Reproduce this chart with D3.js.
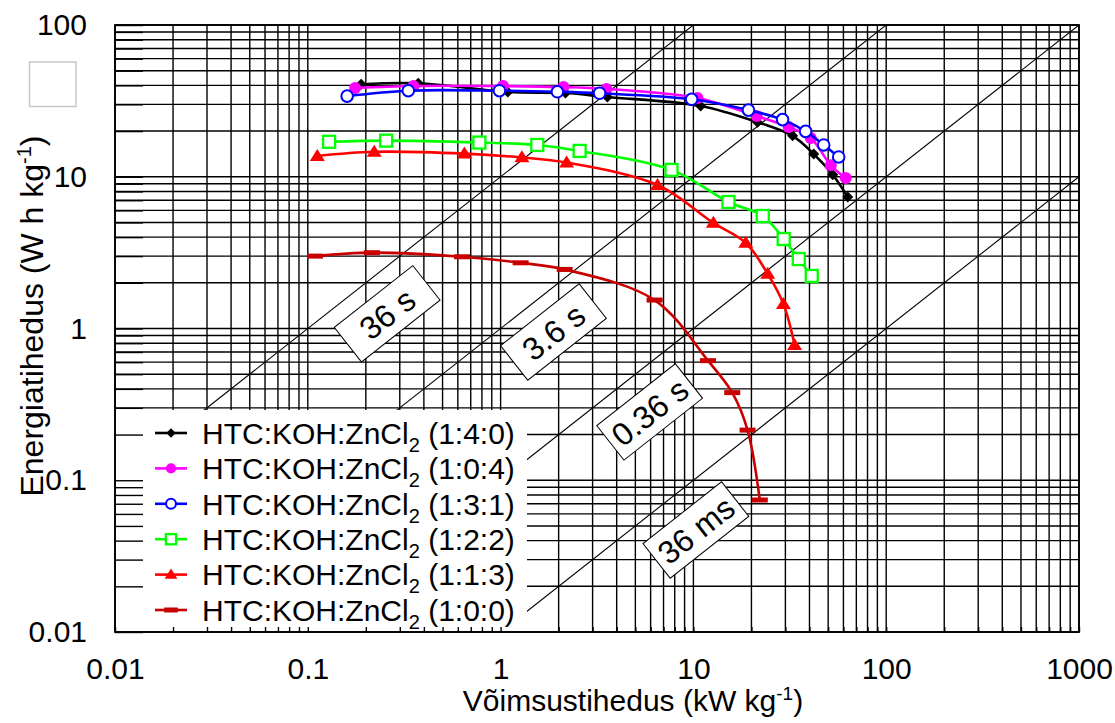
<!DOCTYPE html>
<html>
<head>
<meta charset="utf-8">
<script src="https://cdn.jsdelivr.net/npm/d3@7"></script>
<style>
  body { margin: 0; background: #fff; }
  svg { display: block; font-family: "Liberation Sans", Arial, Helvetica, sans-serif; }
</style>
</head>
<body>
<svg id="chart" width="1115" height="723"></svg>
<script>
// Ragone data: power density (kW/kg) and energy density (Wh/kg) per electrode
const p140 = [0.189, 0.374, 1.09, 2.17, 3.58, 10.9, 21.5, 32.7, 42.1, 52.8, 63.2];
const e140 = [40.7, 41.3, 36.2, 35.6, 33.5, 29.3, 22.9, 18.6, 14.1, 10.3, 7.35];

const p104 = [0.176, 0.353, 1.03, 2.12, 3.54, 10.5, 21.3, 31.2, 40.6, 51.6, 61.7];
const e104 = [38.5, 39.6, 39.6, 39.0, 37.9, 33.0, 25.1, 21.3, 18.0, 11.9, 9.8];

const p131 = [0.160, 0.332, 0.986, 1.97, 3.26, 9.79, 19.3, 29.0, 38.2, 47.4, 56.7];
const e131 = [34.0, 36.9, 36.9, 36.3, 35.5, 32.4, 27.5, 23.8, 19.9, 16.2, 13.5];

const p122 = [0.129, 0.255, 0.776, 1.55, 2.57, 7.70, 15.2, 22.9, 29.4, 35.2, 41.1];
const e122 = [17.0, 17.3, 16.8, 16.2, 14.8, 11.1, 6.82, 5.51, 3.89, 2.87, 2.22];

const p113 = [0.112, 0.221, 0.649, 1.29, 2.20, 6.52, 12.7, 18.7, 24.3, 29.3, 33.5];
const e113 = [13.7, 14.6, 14.2, 13.4, 12.4, 8.82, 4.96, 3.66, 2.29, 1.45, 0.778];

const p100 = [0.109, 0.215, 0.631, 1.27, 2.15, 6.29, 11.9, 15.9, 19.1, 22.1];
const e100 = [3.00, 3.16, 2.97, 2.71, 2.45, 1.54, 0.614, 0.378, 0.214, 0.0741];

const ratios = ["1:4:0", "1:0:4", "1:3:1", "1:2:2", "1:1:3", "1:0:0"];

// Axis decades and labels
const xTicks = [0.01, 0.1, 1, 10, 100, 1000];
const yTicks = [0.01, 0.1, 1, 10, 100];
const xTickLabels = ["0.01", "0.1", "1", "10", "100", "1000"];
const yTickLabels = ["0.01", "0.1", "1", "10", "100"];

// Constant discharge-time lines (seconds) with their tags
const times = [36, 3.6, 0.36, 0.036];
const timeLabels = ["36 s", "3.6 s", "0.36 s", "36 ms"];
const timeLabelP = [0.258, 1.88, 5.93, 10.3];
const timeLabelE = [1.25, 0.948, 0.282, 0.047];

// ---- styles ----
const seriesStyle = [
  { color: "#000000", marker: "diamond" },
  { color: "#ff00ff", marker: "dot" },
  { color: "#0000ff", marker: "ring" },
  { color: "#00ff00", marker: "square" },
  { color: "#ff0000", marker: "triangle" },
  { color: "#c80000", marker: "bar" }
];
const seriesP = [p140, p104, p131, p122, p113, p100];
const seriesE = [e140, e104, e131, e122, e113, e100];

const svg = d3.select("#chart");
const L = 115, R = 1079, T = 25, B = 632;
const x = d3.scaleLog().domain([0.01, 1000]).range([L, R]);
const y = d3.scaleLog().domain([0.01, 100]).range([B, T]);

// minor positions 1..9 in every decade
function minors(lo, hi) {
  const out = [];
  for (let d = lo; d < hi * 0.999; d *= 10)
    for (let k = 1; k <= 9; k++) out.push(+(k * d).toPrecision(3));
  out.push(hi);
  return out;
}
const xMinor = minors(0.01, 1000);
const yMinor = minors(0.01, 100);

// grid
const grid = svg.append("g").attr("stroke", "#000").attr("stroke-width", 1.4);
grid.selectAll("line.v").data(xMinor).join("line")
  .attr("x1", d => x(d)).attr("x2", d => x(d)).attr("y1", T).attr("y2", B);
grid.selectAll("line.h").data(yMinor).join("line")
  .attr("x1", L).attr("x2", R).attr("y1", d => y(d)).attr("y2", d => y(d));

// clip for the plot area
svg.append("clipPath").attr("id", "plotClip").append("rect")
  .attr("x", L).attr("y", T).attr("width", R - L).attr("height", B - T);

// discharge-time diagonals: E[Wh/kg] = P[kW/kg] * t / 3.6
const diag = svg.append("g").attr("clip-path", "url(#plotClip)");
times.forEach(t => {
  const k = t / 3.6;
  const p0 = 0.01, p1 = 1000;
  diag.append("line")
    .attr("x1", x(p0)).attr("y1", y(p0 * k))
    .attr("x2", x(p1)).attr("y2", y(p1 * k))
    .attr("stroke", "#000").attr("stroke-width", 1.1);
});

// series lines and markers
const line = d3.line().curve(d3.curveCatmullRom.alpha(0.5));
function drawMarker(g, type, color, cx, cy, scale) {
  const s = scale || 1;
  if (type === "diamond") {
    const h = 5.5 * s;
    g.append("path").attr("d", `M${cx},${cy - h}L${cx + h},${cy}L${cx},${cy + h}L${cx - h},${cy}Z`)
      .attr("fill", color);
  } else if (type === "dot") {
    g.append("circle").attr("cx", cx).attr("cy", cy).attr("r", 6 * s).attr("fill", color);
  } else if (type === "ring") {
    g.append("circle").attr("cx", cx).attr("cy", cy).attr("r", 5.8 * s)
      .attr("fill", "#fff").attr("stroke", color).attr("stroke-width", 2);
  } else if (type === "square") {
    const h = 6 * s;
    g.append("rect").attr("x", cx - h).attr("y", cy - h).attr("width", 2 * h).attr("height", 2 * h)
      .attr("fill", "#fff").attr("stroke", color).attr("stroke-width", 2.3);
  } else if (type === "triangle") {
    const a = 7.5 * s;
    g.append("path")
      .attr("d", `M${cx},${cy - a * 0.95}L${cx + a},${cy + a * 0.65}L${cx - a},${cy + a * 0.65}Z`)
      .attr("fill", color);
  } else if (type === "bar") {
    g.append("rect").attr("x", cx - 8 * s).attr("y", cy - 2.5).attr("width", 16 * s).attr("height", 5)
      .attr("fill", color);
  }
}

const seriesG = svg.append("g");
// draw bottom-most series first so the upper cluster sits on top
[5, 4, 3, 0, 1, 2].forEach(i => {
  const st = seriesStyle[i];
  const pts = seriesP[i].map((p, j) => [x(p), y(seriesE[i][j])]);
  const g = seriesG.append("g");
  g.append("path").attr("d", line(pts)).attr("fill", "none")
    .attr("stroke", st.color).attr("stroke-width", 2.6);
  pts.forEach(([cx, cy]) => drawMarker(g, st.marker, st.color, cx, cy, 1));
});

// time tags along the diagonals
const ang = -Math.atan((y(1) - y(10)) / (x(10) - x(1))) * 180 / Math.PI;
timeLabels.forEach((lab, i) => {
  const g = svg.append("g")
    .attr("transform", `translate(${x(timeLabelP[i])},${y(timeLabelE[i])}) rotate(${ang})`);
  g.append("rect").attr("x", -50).attr("y", -22).attr("width", 100).attr("height", 44)
    .attr("fill", "#fff").attr("stroke", "#000").attr("stroke-width", 1);
  g.append("text").attr("text-anchor", "middle").attr("dy", "0.36em")
    .attr("font-size", 32).attr("fill", "#000").text(lab);
});

// legend
const legX = 116, legY = 410, legW = 411, legH = 221;
const leg = svg.append("g");
leg.append("rect").attr("x", legX).attr("y", legY).attr("width", legW).attr("height", legH).attr("fill", "#fff");
ratios.forEach((r, i) => {
  const cy = 433 + i * 35.4;
  const st = seriesStyle[i];
  leg.append("line").attr("x1", 155).attr("x2", 187).attr("y1", cy).attr("y2", cy)
    .attr("stroke", st.color).attr("stroke-width", 2.6);
  drawMarker(leg, st.marker, st.color, 171, cy, 0.85);
  const t = leg.append("text").attr("x", 202).attr("y", cy).attr("dy", "0.36em")
    .attr("font-size", 30).attr("fill", "#000");
  t.append("tspan").text("HTC:KOH:ZnCl");
  t.append("tspan").attr("font-size", 20).attr("dy", 8).text("2");
  t.append("tspan").attr("dy", -8).text(" (" + r + ")");
});

// axes (inward ticks drawn over the legend)
const xAxis = d3.axisBottom(x).tickValues(xMinor).tickSizeInner(-5).tickSizeOuter(0).tickPadding(26)
  .tickFormat(d => { const i = xTicks.indexOf(d); return i >= 0 ? xTickLabels[i] : ""; });
const yAxis = d3.axisLeft(y).tickValues(yMinor).tickSizeInner(-28).tickSizeOuter(0).tickPadding(28)
  .tickFormat(d => { const i = yTicks.indexOf(d); return i >= 0 ? yTickLabels[i] : ""; });

const gx = svg.append("g").attr("transform", `translate(0,${B})`).call(xAxis);
const gy = svg.append("g").attr("transform", `translate(${L},0)`).call(yAxis);
[gx, gy].forEach(g => {
  g.selectAll("text").attr("font-size", 30).attr("fill", "#000")
    .attr("font-family", "'Liberation Sans', Arial, sans-serif");
  g.selectAll("line").attr("stroke", "#000").attr("stroke-width", 1.4);
  g.select(".domain").remove();
});

// frame
svg.append("rect").attr("x", L).attr("y", T).attr("width", R - L).attr("height", B - T)
  .attr("fill", "none").attr("stroke", "#000").attr("stroke-width", 1.8);

// axis titles
const xt = svg.append("text").attr("x", 633).attr("y", 711).attr("text-anchor", "middle")
  .attr("font-size", 30).attr("fill", "#000");
xt.append("tspan").text("Võimsustihedus (kW kg");
xt.append("tspan").attr("font-size", 19).attr("dy", -11).text("-1");
xt.append("tspan").attr("dy", 11).text(")");

const yt = svg.append("text").attr("transform", "translate(43,316) rotate(-90)")
  .attr("text-anchor", "middle").attr("font-size", 32).attr("fill", "#000");
yt.append("tspan").text("Energiatihedus (W h kg");
yt.append("tspan").attr("font-size", 20).attr("dy", -12).text("-1");
yt.append("tspan").attr("dy", 12).text(")");

// empty swatch box at the upper left
svg.append("rect").attr("x", 29.5).attr("y", 62).attr("width", 46.5).attr("height", 44.5)
  .attr("fill", "#fff").attr("stroke", "#c8c8c8").attr("stroke-width", 1.5);
</script>
</body>
</html>
